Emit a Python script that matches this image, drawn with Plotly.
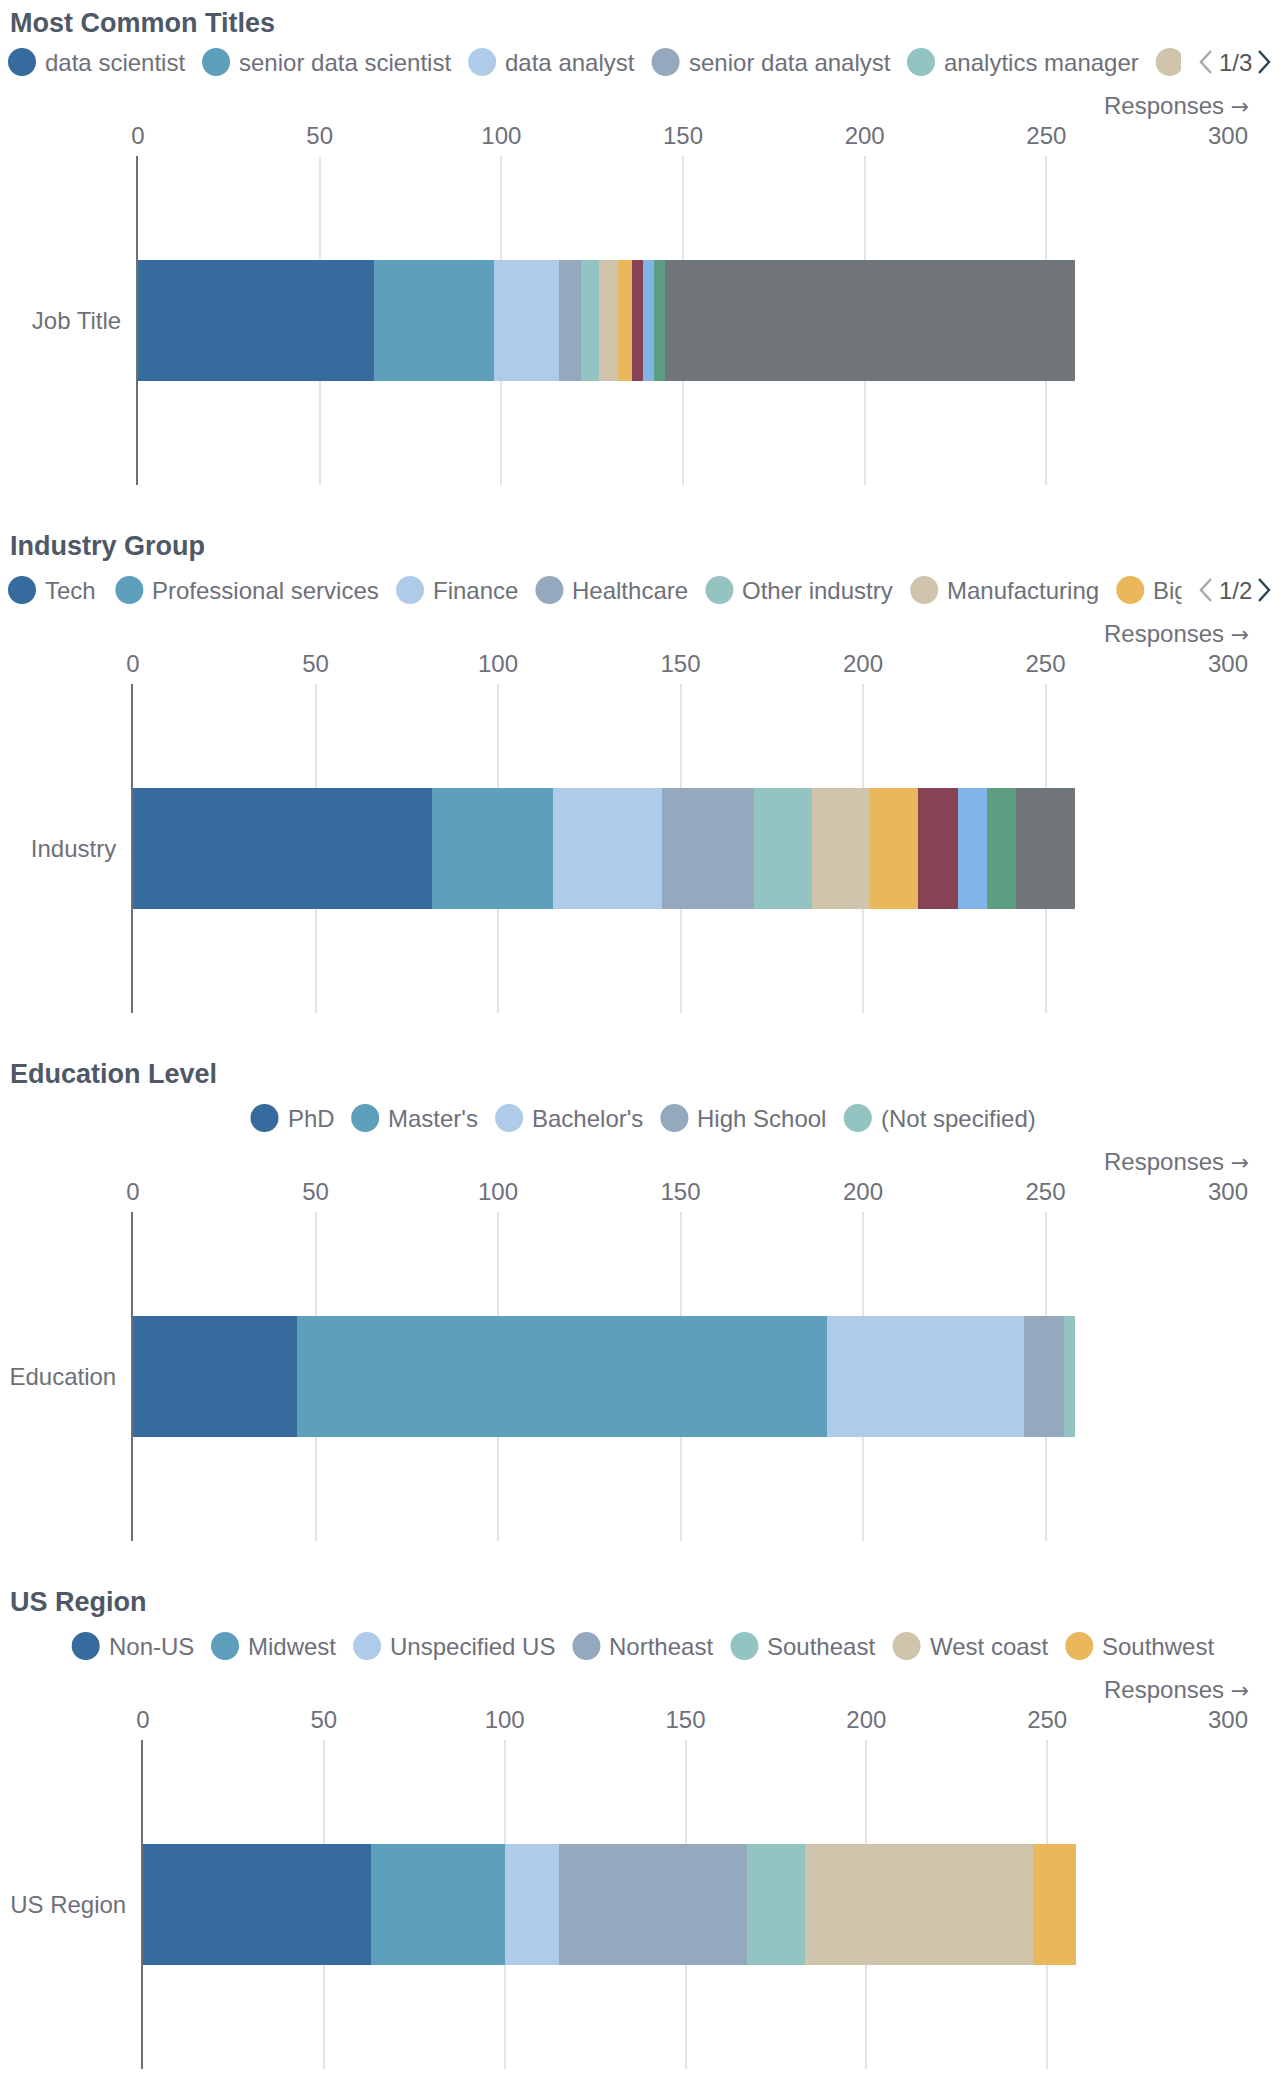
import plotly.graph_objects as go

# ---------------- data ----------------
job_category = ["Job Title"]
job_names = ["data scientist", "senior data scientist", "data analyst", "senior data analyst",
             "analytics manager", "data engineer", "machine learning engineer", "research scientist",
             "statistician", "lead data scientist", "Other"]
job_counts = [65, 33, 18, 6, 5, 5, 4, 3, 3, 3, 113]

industry_category = ["Industry"]
industry_names = ["Tech", "Professional services", "Finance", "Healthcare", "Other industry",
                  "Manufacturing", "Big tech", "Retail", "Education", "Government", "(Not specified)"]
industry_counts = [82, 33, 30, 25, 16, 16, 13, 11, 8, 8, 16]

education_category = ["Education"]
education_names = ["PhD", "Master's", "Bachelor's", "High School", "(Not specified)"]
education_counts = [45, 145, 54, 11, 3]

region_category = ["US Region"]
region_names = ["Non-US", "Midwest", "Unspecified US", "Northeast", "Southeast", "West coast", "Southwest"]
region_counts = [63, 37, 15, 52, 16, 63, 12]

section_titles = ["Most Common Titles", "Industry Group", "Education Level", "US Region"]
x_tick_values = [0, 50, 100, 150, 200, 250, 300]
axis_name = "Responses"

# ---------------- style ----------------
palette = ["#376A9D", "#5E9FBB", "#AECBEA", "#94A9BE", "#93C4C2", "#D0C4AD",
           "#EAB75C", "#864356", "#82B4E9", "#5E9F83", "#707579"]
# page body has an 8px margin: figure is sized to fit inside the window
OX, OY = 8, 8
FW, FH = 1268, 2062
FONT = "Liberation Sans, Arial, Helvetica, sans-serif"
TXT = "#6E7079"
TITLE_C = "#4e5866"
GRID_C = "#E2E4E9"

CW = {' ': 278, '!': 278, "'": 191, '(': 333, ')': 333, '-': 333, '/': 278, '.': 278, ',': 278, '&': 667}
for ch in '0123456789':
    CW[ch] = 556
CW.update(dict(zip("ABCDEFGHIJKLMNOPQRSTUVWXYZ",
                   [667, 667, 722, 722, 667, 611, 778, 722, 278, 500, 667, 556, 833, 722, 778, 667, 778,
                    722, 667, 611, 722, 667, 944, 667, 667, 611])))
CW.update(dict(zip("abcdefghijklmnopqrstuvwxyz",
                   [556, 556, 500, 556, 556, 278, 556, 556, 222, 222, 500, 222, 833, 556, 556, 556, 556,
                    333, 500, 278, 556, 500, 722, 500, 500, 500])))


def text_w(s, size):
    return sum(CW.get(c, 556) for c in s) / 1000 * size


def clamp(v):
    return min(1.0, max(0.0, v))


def px(x):  # window pixel -> paper fraction
    return (x - OX) / FW


def py(y):
    return 1 - (y - OY) / FH


sections = [
    (job_category, job_names, job_counts, 138, "left", "1/3"),
    (industry_category, industry_names, industry_counts, 133, "left", "1/2"),
    (education_category, education_names, education_counts, 133, "center", None),
    (region_category, region_names, region_counts, 143, "center", None),
]

fig = go.Figure()
shapes, annotations = [], []
STEP = 528
PLOT_TOP, PLOT_BOT = 156, 485
RIGHT = 1228
LEG_FS = 24
ICON_D = 28
ICON_TXT = 35
GAP = 19
CLIP = 1181

for k, (cats, names, counts, left, legmode, pager) in enumerate(sections):
    off = STEP * k
    ax = "" if k == 0 else str(k + 1)
    for i, (n, v) in enumerate(zip(names, counts)):
        fig.add_trace(go.Bar(
            x=[v], y=cats, orientation="h", name=n,
            marker=dict(color=palette[i % len(palette)], line=dict(width=0)),
            xaxis="x" + ax, yaxis="y" + ax, showlegend=False,
            hovertemplate=n + ": %{x}<extra></extra>",
        ))
    fig.layout["xaxis" + ax] = dict(
        domain=[clamp(px(left)), clamp(px(RIGHT))], anchor="y" + ax, side="top", range=[0, 300],
        tickvals=x_tick_values, showgrid=True, gridcolor=GRID_C, gridwidth=2,
        zeroline=False, showline=False, ticks="", ticklabelstandoff=6, automargin=False,
        tickfont=dict(family=FONT, size=24, color=TXT), fixedrange=True,
    )
    fig.layout["yaxis" + ax] = dict(
        domain=[clamp(py(PLOT_BOT + off)), clamp(py(PLOT_TOP + off))], anchor="x" + ax, type="category",
        range=[-0.5, 0.5], showline=True, linecolor=TXT, linewidth=2, showgrid=False,
        ticks="", ticklabelstandoff=10, automargin=False,
        tickfont=dict(family=FONT, size=24, color=TXT), fixedrange=True,
    )
    # section title (kept inside the page's top edge)
    annotations.append(dict(text="<b>" + section_titles[k] + "</b>", x=px(OX), y=py(max(18 + off, 23)),
                            xref="paper", yref="paper", xanchor="left", yanchor="middle",
                            showarrow=False, font=dict(family=FONT, size=27, color=TITLE_C)))
    # axis name
    annotations.append(dict(
        text=axis_name + " <span style='font-family:DejaVu Sans;font-size:22px'>\u2192</span>",
        x=px(1251), y=py(105 + off), xref="paper", yref="paper",
        xanchor="right", yanchor="middle", showarrow=False,
        font=dict(family=FONT, size=24, color=TXT)))
    # legend
    cy = 62 + off
    widths = [text_w(n, LEG_FS) for n in names]
    if legmode == "center":
        total = sum(ICON_TXT + w for w in widths) + GAP * (len(names) - 1)
        xpos = 642 - total / 2
    else:
        xpos = OX
    for i, (n, w) in enumerate(zip(names, widths)):
        if xpos >= CLIP:
            break
        col = palette[i % len(palette)]
        shapes.append(dict(type="circle", xref="paper", yref="paper",
                           x0=px(xpos), x1=px(xpos + ICON_D), y0=py(cy + ICON_D / 2), y1=py(cy - ICON_D / 2),
                           fillcolor=col, line=dict(width=0), layer="above"))
        tx = xpos + ICON_TXT
        if tx < CLIP:
            label = n if (legmode == "center" or tx + w <= CLIP) else n.split()[0]
            annotations.append(dict(text=label, x=px(tx), y=py(cy), xref="paper", yref="paper",
                                    xanchor="left", yanchor="middle", showarrow=False,
                                    font=dict(family=FONT, size=LEG_FS, color=TXT)))
        xpos = tx + w + GAP
    if pager:
        # clip overflow of legend
        shapes.append(dict(type="rect", xref="paper", yref="paper", x0=px(CLIP), x1=px(1197),
                           y0=py(cy + 20), y1=py(cy - 20), fillcolor="white", line=dict(width=0),
                           layer="above"))
        annotations.append(dict(text="\u00a0", x=px(CLIP), y=py(cy), xref="paper", yref="paper",
                                xanchor="left", yanchor="middle", showarrow=False, width=14, height=40,
                                bgcolor="white", borderpad=0, font=dict(size=10)))
        shapes.append(dict(type="path", xref="paper", yref="paper", layer="above",
                           path=f"M {px(1211)} {py(cy - 11)} L {px(1201)} {py(cy)} L {px(1211)} {py(cy + 11)}",
                           line=dict(color="#aaaaaa", width=2.5)))
        shapes.append(dict(type="path", xref="paper", yref="paper", layer="above",
                           path=f"M {px(1259)} {py(cy - 11)} L {px(1269)} {py(cy)} L {px(1259)} {py(cy + 11)}",
                           line=dict(color="#2f4554", width=2.5)))
        annotations.append(dict(text=pager, x=px(1235.5), y=py(cy), xref="paper", yref="paper",
                                xanchor="center", yanchor="middle", showarrow=False,
                                font=dict(family=FONT, size=24, color="#555555")))

fig.update_layout(
    width=FW, height=FH, margin=dict(l=0, r=0, t=0, b=0, autoexpand=False),
    paper_bgcolor="white", plot_bgcolor="white",
    barmode="stack", bargap=0.635, showlegend=False,
    shapes=shapes, annotations=annotations,
    font=dict(family=FONT, color=TXT),
)

fig.write_html("out.html")
